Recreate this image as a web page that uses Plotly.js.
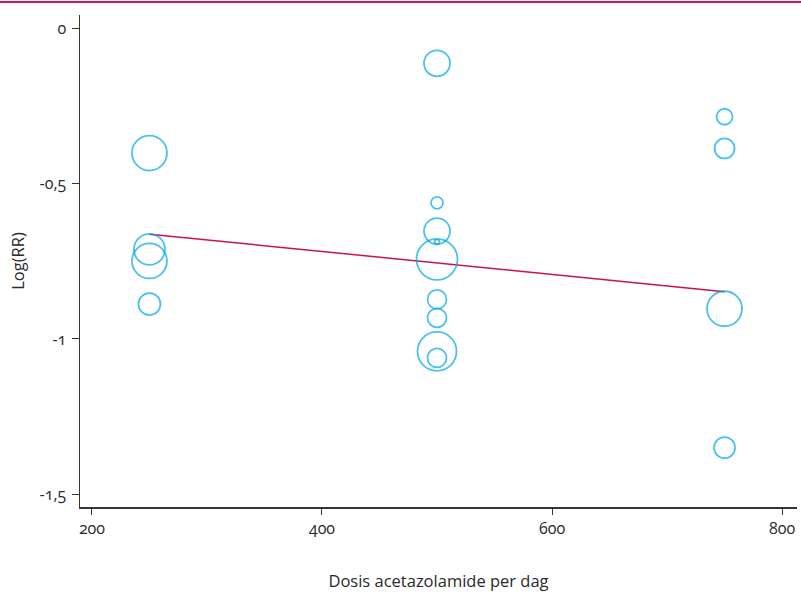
<!DOCTYPE html>
<html>
<head>
<meta charset="utf-8">
<script src="https://cdn.plot.ly/plotly-3.0.1.min.js"></script>
<style>
html,body{margin:0;padding:0;background:#fff;}
#chart{width:801px;height:603px;}
.main-svg text{font-feature-settings:"onum" 1;}
</style>
</head>
<body>
<div id="chart"></div>
<script>
// Study data: dose (mg/day), log relative risk, bubble weight
const dose   = [250, 250, 250, 250,
                500, 500, 500, 500, 500, 500, 500, 500, 500,
                750, 750, 750, 750];
const logRR  = [-0.402, -0.712, -0.749, -0.888,
                -0.113, -0.562, -0.653, -0.688, -0.744, -0.873, -0.932, -1.040, -1.061,
                -0.285, -0.387, -0.903, -1.350];
const weight = [35, 31, 35, 22,
                26, 12, 26, 5, 41, 19, 19, 39, 19,
                16, 20, 35, 21];

// Meta-regression line
const regX = [250, 750];
const regY = [-0.663, -0.848];

const yTickVals = [0, -0.5, -1, -1.5];
const yTickText = ['0', '-0,5', '-1', '-1,5'];
const xTickVals = [200, 400, 600, 800];
const xTickText = ['200', '400', '600', '800'];

const fam = '"Open Sans", "DejaVu Sans", sans-serif';
const txt = '#2a2a2a';

const traces = [
  {
    x: regX, y: regY, type: 'scatter', mode: 'lines',
    line: {color: '#c8124f', width: 1.5},
    hoverinfo: 'skip', showlegend: false
  },
  {
    x: dose, y: logRR, type: 'scatter', mode: 'markers',
    marker: {
      symbol: 'circle-open',
      size: weight,
      color: '#00a6ea',
      line: {color: '#00a6ea', width: 1.8}
    },
    showlegend: false
  }
];

const layout = {
  width: 801, height: 603,
  margin: {l: 80, r: 4, t: 15, b: 96},
  paper_bgcolor: '#fff', plot_bgcolor: '#fff',
  font: {family: fam, size: 16, color: txt},
  showlegend: false,
  xaxis: {
    range: [189.6, 813],
    tickvals: xTickVals, ticktext: xTickText,
    ticks: 'outside', ticklen: 6, tickwidth: 1, tickcolor: '#333',
    showline: true, linecolor: '#333', linewidth: 1.5,
    showgrid: false, zeroline: false,
    tickfont: {family: fam, size: 16, color: txt},
    title: {text: 'Dosis acetazolamide per dag', standoff: 37,
            font: {family: fam, size: 16.5, color: txt}}
  },
  yaxis: {
    range: [-1.541, 0.0425],
    tickvals: yTickVals, ticktext: yTickText,
    ticks: 'outside', ticklen: 7, tickwidth: 1, tickcolor: '#333',
    showline: true, linecolor: '#333', linewidth: 1.5,
    showgrid: false, zeroline: false,
    ticklabelstandoff: 2,
    tickfont: {family: fam, size: 16, color: txt},
    title: {text: 'Log(RR)', standoff: 10,
            font: {family: fam, size: 16.5, color: txt}}
  },
  shapes: [{
    type: 'line', xref: 'paper', yref: 'paper',
    x0: -80/717, x1: 1 + 4/717,
    y0: 1 + 13/492, y1: 1 + 13/492,
    line: {color: '#d4145a', width: 2}
  }]
};

Plotly.newPlot('chart', traces, layout, {displayModeBar: false, staticPlot: true});
</script>
</body>
</html>
